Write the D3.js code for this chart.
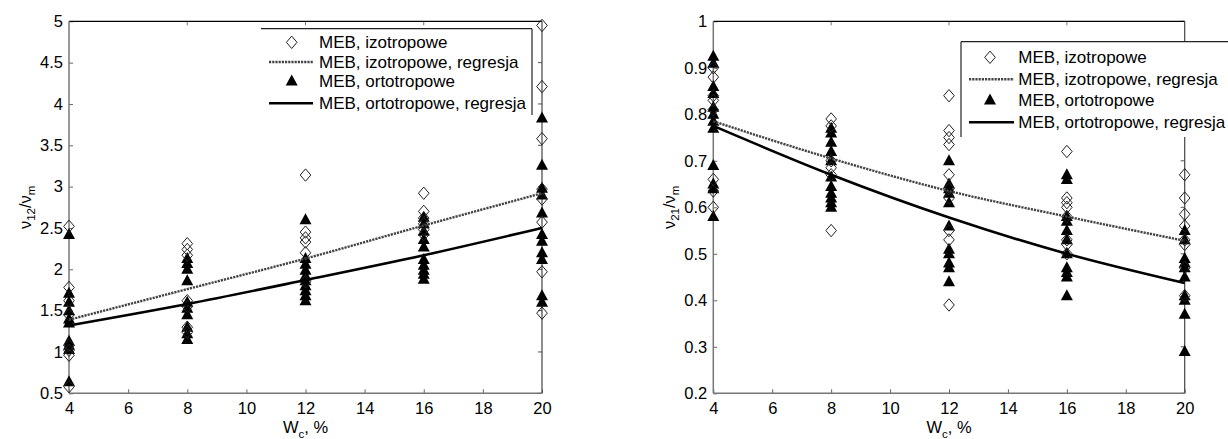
<!DOCTYPE html>
<html><head><meta charset="utf-8">
<script src="https://cdn.jsdelivr.net/npm/d3@7/dist/d3.min.js"></script>
<style>
body{margin:0;background:#fff;}
svg{display:block;font-family:Arial,"Liberation Sans",sans-serif;}
</style>
</head><body>
<svg id="chart" width="1228" height="439"></svg>
<script>
// ---------- data ----------
const wcCategories = [4, 8, 12, 16, 20];
const xTickValues = [4, 6, 8, 10, 12, 14, 16, 18, 20];
const xTopTickValues = [8, 12, 16];
const leftYTicks = [0.5, 1, 1.5, 2, 2.5, 3, 3.5, 4, 4.5, 5];
const rightYTicks = [0.2, 0.3, 0.4, 0.5, 0.6, 0.7, 0.8, 0.9, 1];
const legendLabels = ["MEB, izotropowe", "MEB, izotropowe, regresja", "MEB, ortotropowe", "MEB, ortotropowe, regresja"];

// nu12/num, one list per Wc category
const nu12Isotropic = [
  [2.52, 1.78, 1.62, 1.45, 1.08, 1.02, 0.96, 0.58],
  [2.31, 2.24, 2.17, 1.62, 1.55, 1.30, 1.24],
  [3.14, 2.45, 2.38, 2.33, 2.20, 1.85],
  [2.92, 2.70, 2.62, 2.55, 2.48, 2.42],
  [4.95, 4.21, 3.58, 2.97, 2.85, 2.57, 1.97, 1.47]
];
const nu12Orthotropic = [
  [2.42, 1.71, 1.60, 1.50, 1.40, 1.35, 1.13, 1.08, 1.03, 0.64],
  [2.13, 2.07, 2.00, 1.86, 1.60, 1.53, 1.45, 1.30, 1.22, 1.15],
  [2.60, 2.13, 2.06, 1.99, 1.92, 1.86, 1.80, 1.74, 1.68, 1.62],
  [2.63, 2.55, 2.46, 2.36, 2.27, 2.12, 2.05, 1.99, 1.94, 1.88],
  [3.83, 3.26, 2.98, 2.90, 2.68, 2.42, 2.34, 2.20, 2.12, 1.68, 1.60]
];
const nu12IsotropicRegression = [1.39, 1.76, 2.13, 2.53, 2.92];
const nu12OrthotropicRegression = [1.32, 1.58, 1.87, 2.17, 2.50];

// nu21/num
const nu21Isotropic = [
  [0.90, 0.88, 0.84, 0.83, 0.81, 0.66, 0.635, 0.60],
  [0.79, 0.775, 0.70, 0.685, 0.67, 0.55],
  [0.84, 0.765, 0.75, 0.735, 0.67, 0.64, 0.62, 0.55, 0.53, 0.39],
  [0.72, 0.62, 0.61, 0.60, 0.58, 0.53, 0.52, 0.50],
  [0.67, 0.62, 0.585, 0.56, 0.53, 0.52, 0.47, 0.41]
];
const nu21Orthotropic = [
  [0.925, 0.91, 0.86, 0.845, 0.815, 0.80, 0.785, 0.77, 0.69, 0.65, 0.64, 0.58],
  [0.77, 0.76, 0.74, 0.72, 0.70, 0.665, 0.645, 0.63, 0.62, 0.61, 0.60],
  [0.70, 0.65, 0.64, 0.63, 0.61, 0.56, 0.51, 0.50, 0.48, 0.47, 0.44],
  [0.67, 0.66, 0.58, 0.57, 0.55, 0.53, 0.50, 0.47, 0.46, 0.45, 0.41],
  [0.55, 0.53, 0.49, 0.48, 0.47, 0.45, 0.41, 0.40, 0.37, 0.29]
];
const nu21IsotropicRegression = [0.785, 0.705, 0.635, 0.58, 0.528];
const nu21OrthotropicRegression = [0.775, 0.67, 0.578, 0.50, 0.437];

// ---------- drawing ----------
const svg = d3.select("#chart");
const diamondPath = "M0,-6.2L5.3,0L0,6.2L-5.3,0Z";
const trianglePath = "M0,-6.5L6,4.5L-6,4.5Z";
const isoDash = "2.2 1";

function flatten(groups) {
  const out = [];
  groups.forEach((vals, i) => vals.forEach(v => out.push({x: wcCategories[i], y: v})));
  return out;
}

function drawPanel(cfg) {
  const g = svg.append("g");
  const x = d3.scaleLinear().domain([4, 20]).range([cfg.x0, cfg.x1]);
  const y = d3.scaleLinear().domain(cfg.yDomain).range([cfg.y0, cfg.y1]);

  // bottom axis
  const ax = g.append("g").attr("transform", `translate(0,${cfg.y0})`)
    .call(d3.axisBottom(x).tickValues(xTickValues).tickSizeInner(-4).tickSizeOuter(0).tickPadding(9).tickFormat(d3.format("d")));
  ax.select(".domain").remove();
  ax.selectAll("line").attr("stroke", "#666");
  ax.selectAll("text").attr("font-size", 16.5).attr("fill", "#000").attr("font-family", "Arial, 'Liberation Sans', sans-serif");

  // left axis
  const ay = g.append("g").attr("transform", `translate(${cfg.x0},0)`)
    .call(d3.axisLeft(y).tickValues(cfg.yTicks).tickSizeInner(-4).tickSizeOuter(0).tickPadding(6).tickFormat(d => String(+d.toFixed(2))));
  ay.select(".domain").remove();
  ay.selectAll("line").attr("stroke", "#666");
  ay.selectAll("text").attr("font-size", 16.5).attr("fill", "#000").attr("font-family", "Arial, 'Liberation Sans', sans-serif");

  // top ticks
  g.selectAll(".ttick").data(xTopTickValues).join("line")
    .attr("x1", d => x(d)).attr("x2", d => x(d)).attr("y1", cfg.y1).attr("y2", cfg.y1 + 4)
    .attr("stroke", "#777");
  // right ticks
  g.selectAll(".rtick").data(cfg.yTicks).join("line")
    .attr("x1", cfg.x1 - 4).attr("x2", cfg.x1).attr("y1", d => y(d)).attr("y2", d => y(d))
    .attr("stroke", "#555");

  // frame
  g.append("line").attr("x1", cfg.x0).attr("x2", cfg.x1).attr("y1", cfg.y1).attr("y2", cfg.y1).attr("stroke", "#000").attr("stroke-width", 1.2);
  g.append("line").attr("x1", cfg.x1).attr("x2", cfg.x1).attr("y1", cfg.y1).attr("y2", cfg.y0).attr("stroke", "#444").attr("stroke-width", 1.2);
  g.append("line").attr("x1", cfg.x0).attr("x2", cfg.x0).attr("y1", cfg.y1).attr("y2", cfg.y0).attr("stroke", "#777").attr("stroke-width", 1.5);
  g.append("line").attr("x1", cfg.x0).attr("x2", cfg.x1).attr("y1", cfg.y0).attr("y2", cfg.y0).attr("stroke", "#777").attr("stroke-width", 1.5);

  // triangles
  g.append("g").selectAll("path").data(flatten(cfg.orto)).join("path")
    .attr("d", trianglePath).attr("transform", d => `translate(${x(d.x)},${y(d.y)})`)
    .attr("fill", "#000");
  // diamonds
  g.append("g").selectAll("path").data(flatten(cfg.iso)).join("path")
    .attr("d", diamondPath).attr("transform", d => `translate(${x(d.x)},${y(d.y)})`)
    .attr("fill", "none").attr("stroke", "#222").attr("stroke-width", 1);

  // regression lines
  const line = d3.line().x((d, i) => x(wcCategories[i])).y(d => y(d)).curve(d3.curveMonotoneX);
  g.append("path").datum(cfg.isoReg).attr("d", line).attr("fill", "none")
    .attr("stroke", "#444").attr("stroke-width", 2.4).attr("stroke-dasharray", isoDash);
  g.append("path").datum(cfg.ortoReg).attr("d", line).attr("fill", "none")
    .attr("stroke", "#000").attr("stroke-width", 2.6);

  // legend
  const L = cfg.legend;
  const lg = svg.append("g");
  lg.append("rect").attr("x", L.x0).attr("y", L.y0).attr("width", L.x1 - L.x0).attr("height", L.y1 - L.y0).attr("fill", "#fff");
  L.borders.forEach(b => lg.append("line").attr("x1", b[0]).attr("y1", b[1]).attr("x2", b[2]).attr("y2", b[3]).attr("stroke", "#222").attr("stroke-width", 1.2));
  legendLabels.forEach((lab, i) => {
    const cy = L.rows[i];
    if (i === 0) lg.append("path").attr("d", diamondPath).attr("transform", `translate(${L.mx},${cy})`).attr("fill", "none").attr("stroke", "#222");
    if (i === 2) lg.append("path").attr("d", trianglePath).attr("transform", `translate(${L.mx},${cy})`).attr("fill", "#000");
    if (i === 1) lg.append("line").attr("x1", L.lx0).attr("x2", L.lx1).attr("y1", cy).attr("y2", cy).attr("stroke", "#444").attr("stroke-width", 2.4).attr("stroke-dasharray", isoDash);
    if (i === 3) lg.append("line").attr("x1", L.lx0).attr("x2", L.lx1).attr("y1", cy).attr("y2", cy).attr("stroke", "#000").attr("stroke-width", 2.6);
    lg.append("text").attr("x", L.tx).attr("y", cy + 6).attr("font-size", 17).attr("fill", "#000").text(lab);
  });

  // y label
  const yl = svg.append("text").attr("transform", `translate(${cfg.yLabelX},${(cfg.y0 + cfg.y1) / 2}) rotate(-90)`)
    .attr("text-anchor", "middle").attr("font-size", 16.5).attr("fill", "#000");
  yl.append("tspan").text("ν");
  yl.append("tspan").attr("font-size", 11.5).attr("dy", 4).text(cfg.sub);
  yl.append("tspan").attr("dy", -4).text("/ν");
  yl.append("tspan").attr("font-size", 11.5).attr("dy", 4).text("m");

  // x label
  const xl = svg.append("text").attr("x", (cfg.x0 + cfg.x1) / 2).attr("y", 433)
    .attr("text-anchor", "middle").attr("font-size", 16.5).attr("fill", "#000");
  xl.append("tspan").text("W");
  xl.append("tspan").attr("font-size", 11.5).attr("dy", 5).text("c");
  xl.append("tspan").attr("dy", -5).text(", %");
}

drawPanel({
  x0: 69, x1: 542, y0: 393.3, y1: 21.3, yDomain: [0.5, 5], yTicks: leftYTicks,
  iso: nu12Isotropic, orto: nu12Orthotropic, isoReg: nu12IsotropicRegression, ortoReg: nu12OrthotropicRegression,
  sub: "12", yLabelX: 31,
  legend: {x0: 261, y0: 28.7, x1: 532, y1: 115, borders: [[261, 28.7, 532, 28.7], [532, 28.7, 532, 115]],
           rows: [42.3, 62, 81, 103.3], mx: 291.7, lx0: 269, lx1: 313, tx: 319}
});
drawPanel({
  x0: 713.3, x1: 1184.7, y0: 393.3, y1: 21.3, yDomain: [0.2, 1], yTicks: rightYTicks,
  iso: nu21Isotropic, orto: nu21Orthotropic, isoReg: nu21IsotropicRegression, ortoReg: nu21OrthotropicRegression,
  sub: "21", yLabelX: 675,
  legend: {x0: 961, y0: 41.7, x1: 1240, y1: 137, borders: [[961, 41.7, 1240, 41.7], [961, 41.7, 961, 137]],
           rows: [57.3, 79.3, 100, 122.3], mx: 990, lx0: 969, lx1: 1014, tx: 1018.3}
});
</script>
</body></html>
